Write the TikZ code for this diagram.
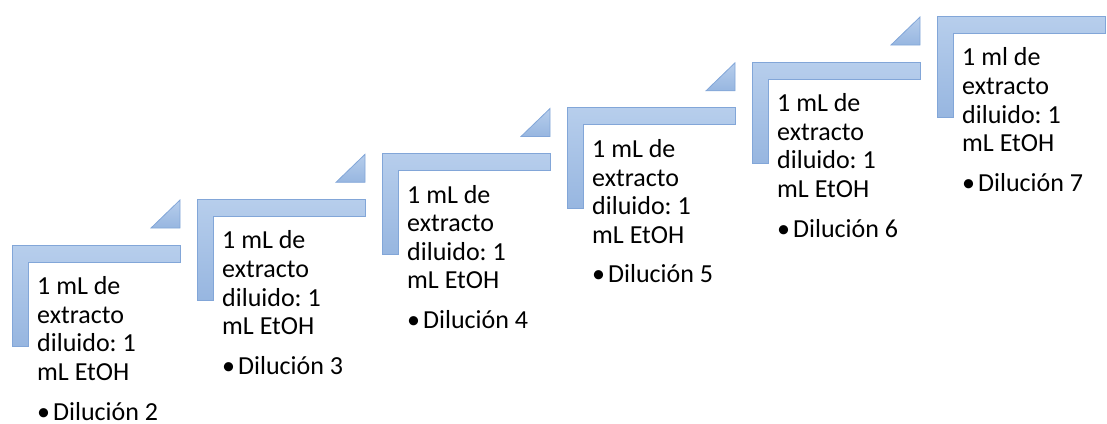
\documentclass[tikz,border=0pt]{standalone}
\usepackage{fontspec}
\setmainfont{Carlito}
\frenchspacing
\definecolor{bandtop}{HTML}{B7CEEC}
\definecolor{bandbot}{HTML}{97B6E0}
\definecolor{bandline}{HTML}{82A6D8}
\tikzset{
  stepbar/.style={draw=bandline, line width=0.8pt, top color=bandtop, bottom color=bandbot},
  steptri/.style={draw=bandline, line width=0.8pt, top color=bandtop, bottom color=bandbot},
  steptext/.style={anchor=base west, inner sep=0pt, align=left,
    font=\fontsize{26}{28.6}\selectfont}
}
\begin{document}
\begin{tikzpicture}[x=1pt,y=-1pt]
\useasboundingbox (0,0) rectangle (1107,423);
\draw[stepbar] (12,245) -- ++(168,0) -- ++(0,17) -- ++(-152,0) -- ++(0,84) -- ++(-16,0) -- cycle;
\draw[steptri] (180,200) -- ++(0,28) -- ++(-29,0) -- cycle;
\node[steptext] (dil2) at (37,420) {1 mL de\\extracto\\diluido: 1\\mL EtOH\\[11pt]•\hspace{3pt}Dilución 2};

\draw[stepbar] (197,199.3) -- ++(168,0) -- ++(0,17) -- ++(-152,0) -- ++(0,84) -- ++(-16,0) -- cycle;
\draw[steptri] (365,154.3) -- ++(0,28) -- ++(-29,0) -- cycle;
\node[steptext] (dil3) at (222,374.3) {1 mL de\\extracto\\diluido: 1\\mL EtOH\\[11pt]•\hspace{3pt}Dilución 3};

\draw[stepbar] (382,153.5) -- ++(168,0) -- ++(0,17) -- ++(-152,0) -- ++(0,84) -- ++(-16,0) -- cycle;
\draw[steptri] (550,108.5) -- ++(0,28) -- ++(-29,0) -- cycle;
\node[steptext] (dil4) at (407,328.5) {1 mL de\\extracto\\diluido: 1\\mL EtOH\\[11pt]•\hspace{3pt}Dilución 4};

\draw[stepbar] (567,107.8) -- ++(168,0) -- ++(0,17) -- ++(-152,0) -- ++(0,84) -- ++(-16,0) -- cycle;
\draw[steptri] (735,62.8) -- ++(0,28) -- ++(-29,0) -- cycle;
\node[steptext] (dil5) at (592,282.8) {1 mL de\\extracto\\diluido: 1\\mL EtOH\\[11pt]•\hspace{3pt}Dilución 5};

\draw[stepbar] (752,62) -- ++(168,0) -- ++(0,17) -- ++(-152,0) -- ++(0,84) -- ++(-16,0) -- cycle;
\draw[steptri] (920,17) -- ++(0,28) -- ++(-29,0) -- cycle;
\node[steptext] (dil6) at (777,237) {1 mL de\\extracto\\diluido: 1\\mL EtOH\\[11pt]•\hspace{3pt}Dilución 6};

\draw[stepbar] (937,16.3) -- ++(168,0) -- ++(0,17) -- ++(-152,0) -- ++(0,84) -- ++(-16,0) -- cycle;
\node[steptext] (dil7) at (962,191.3) {1 ml de\\extracto\\diluido: 1\\mL EtOH\\[11pt]•\hspace{3pt}Dilución 7};

\end{tikzpicture}
\end{document}
